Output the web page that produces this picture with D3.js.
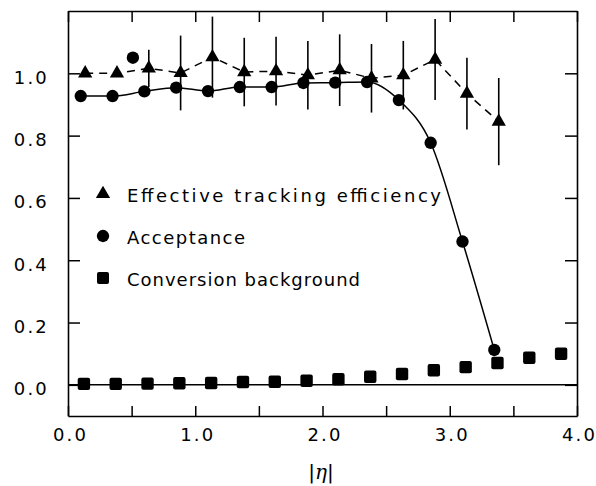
<!DOCTYPE html>
<html>
<head>
<meta charset="utf-8">
<script src="https://cdn.jsdelivr.net/npm/d3@7"></script>
<style>
  body { margin: 0; background: #fff; }
  svg { display: block; }
  text { font-family: "DejaVu Sans", sans-serif; fill: #000; }
</style>
</head>
<body>
<script>
// |eta| bins
var accX = [0.1, 0.35, 0.6, 0.85, 1.1, 1.35, 1.6, 1.85, 2.1, 2.35, 2.6, 2.85, 3.1, 3.35];
var accY = [0.927, 0.927, 0.942, 0.954, 0.943, 0.956, 0.956, 0.969, 0.970, 0.972, 0.914, 0.777, 0.46, 0.112];
var effX = [0.135, 0.385, 0.635, 0.885, 1.135, 1.385, 1.635, 1.885, 2.135, 2.385, 2.635, 2.885, 3.135, 3.385];
var effY = [1.0, 1.0, 1.016, 1.001, 1.052, 1.004, 1.007, 0.994, 1.01, 0.984, 0.994, 1.044, 0.935, 0.845];
var effErr = [0, 0, 0.06, 0.12, 0.13, 0.11, 0.11, 0.11, 0.115, 0.11, 0.11, 0.13, 0.115, 0.14];
var convX = [0.125, 0.375, 0.625, 0.875, 1.125, 1.375, 1.625, 1.875, 2.125, 2.375, 2.625, 2.875, 3.125, 3.375, 3.625, 3.875];
var convY = [0.003, 0.003, 0.004, 0.005, 0.006, 0.009, 0.01, 0.013, 0.018, 0.026, 0.035, 0.047, 0.057, 0.07, 0.087, 0.1];
var strayX = [0.51];
var strayY = [1.05];
var xTicks = [0, 0.5, 1, 1.5, 2, 2.5, 3, 3.5, 4];
var yTicks = [0, 0.2, 0.4, 0.6, 0.8, 1.0];
var legendLabels = ["Effective tracking efficiency", "Acceptance", "Conversion background"];

(function(w){
	var W = 596, H = 486,
		m = {l: 68, r: 19, t: 11, b: 70};

	var svg = d3.select("body").append("svg").attr("width", W).attr("height", H);
	var g = svg.append("g").attr("transform", "translate(" + m.l + "," + m.t + ")");
	var iw = W - m.l - m.r, ih = H - m.t - m.b;

	var x = d3.scaleLinear().domain([0, 4]).range([0, iw]);
	var y = d3.scaleLinear().domain([-0.1, 1.2]).range([ih, 0]);
	var f = d3.format(".1f");

	function style(sel) {
		sel.select(".domain").attr("stroke", "#000").attr("stroke-width", 1.6);
		sel.selectAll(".tick line").attr("stroke", "#000").attr("stroke-width", 1.5);
		sel.selectAll(".tick text").style("font-size", "18px").style("letter-spacing", "2.2px")
			.style("font-family", "DejaVu Sans, sans-serif");
	}

	// frame + ticks, all inward
	g.append("g").attr("transform", "translate(0," + ih + ")")
		.call(d3.axisBottom(x).tickValues(xTicks).tickSizeInner(-10).tickSizeOuter(0).tickPadding(12)
			.tickFormat(function(d){ return d % 1 == 0 ? f(d) : ""; }))
		.call(style)
		.selectAll(".tick text").attr("dx", "2px");
	g.append("g")
		.call(d3.axisTop(x).tickValues(xTicks).tickSizeInner(-11).tickSizeOuter(0).tickFormat(""))
		.call(style);
	g.append("g")
		.call(d3.axisLeft(y).tickValues(yTicks).tickSizeInner(-12).tickSizeOuter(0).tickPadding(19).tickFormat(f))
		.call(style)
		.selectAll(".tick text").attr("dy", "0.55em");
	g.append("g").attr("transform", "translate(" + iw + ",0)")
		.call(d3.axisRight(y).tickValues(yTicks).tickSizeInner(-12).tickSizeOuter(0).tickFormat(""))
		.call(style);

	// zero line
	g.append("line").attr("x1", 0).attr("x2", iw).attr("y1", y(0)).attr("y2", y(0))
		.attr("stroke", "#000").attr("stroke-width", 1.5);

	// tracking efficiency: dashed + error bars
	var eff = effX.map(function(v, i){ return {x: v, y: effY[i], e: effErr[i]}; });
	g.append("path").datum(eff)
		.attr("d", d3.line().x(function(d){ return x(d.x); }).y(function(d){ return y(d.y); }))
		.attr("fill", "none").attr("stroke", "#000").attr("stroke-width", 1.5).attr("stroke-dasharray", "8,6");
	g.selectAll(".err").data(eff.filter(function(d){ return d.e > 0; })).enter().append("line")
		.attr("class", "err")
		.attr("x1", function(d){ return x(d.x); }).attr("x2", function(d){ return x(d.x); })
		.attr("y1", function(d){ return y(d.y + d.e); }).attr("y2", function(d){ return y(d.y - d.e); })
		.attr("stroke", "#000").attr("stroke-width", 1.6);

	// acceptance: smooth solid curve
	var acc = accX.map(function(v, i){ return {x: v, y: accY[i]}; });
	g.append("path").datum(acc)
		.attr("d", d3.line().curve(d3.curveMonotoneX).x(function(d){ return x(d.x); }).y(function(d){ return y(d.y); }))
		.attr("fill", "none").attr("stroke", "#000").attr("stroke-width", 1.5);

	var tri = d3.symbol().type(d3.symbolTriangle).size(88),
		dot = d3.symbol().type(d3.symbolCircle).size(120);

	g.selectAll(".tri").data(eff).enter().append("path").attr("class", "tri")
		.attr("d", tri).attr("transform", function(d){ return "translate(" + x(d.x) + "," + y(d.y) + ")"; });

	g.selectAll(".dot").data(acc.concat(strayX.map(function(v, i){ return {x: v, y: strayY[i]}; })))
		.enter().append("path").attr("class", "dot")
		.attr("d", dot).attr("transform", function(d){ return "translate(" + x(d.x) + "," + y(d.y) + ")"; });

	var conv = convX.map(function(v, i){ return {x: v, y: convY[i]}; });
	g.selectAll(".sq").data(conv).enter().append("rect").attr("class", "sq")
		.attr("x", function(d){ return x(d.x) - 6.2; }).attr("y", function(d){ return y(d.y) - 6.2; })
		.attr("width", 12.4).attr("height", 12.4).attr("rx", 2);

	// legend
	var lg = svg.append("g"),
		lw = [314, 118, 233],
		ly = [194, 236, 278],
		marks = [tri, dot, null];
	legendLabels.forEach(function(t, i){
		if (marks[i]) lg.append("path").attr("d", marks[i]).attr("transform", "translate(103," + ly[i] + ")");
		else lg.append("rect").attr("x", 97).attr("y", ly[i] - 6).attr("width", 12).attr("height", 12).attr("rx", 2);
		lg.append("text").attr("x", 127).attr("y", ly[i] + 8).style("font-size", "18px")
			.attr("textLength", lw[i]).attr("lengthAdjust", "spacing").text(t);
	});

	// x title
	var xt = svg.append("text").attr("x", 321).attr("y", 479).attr("text-anchor", "middle").style("font-size", "20px");
	xt.append("tspan").text("|");
	xt.append("tspan").style("font-style", "italic").style("font-family", "DejaVu Serif, serif").text("\u03b7");
	xt.append("tspan").text("|");
})(window);
</script>
</body>
</html>
